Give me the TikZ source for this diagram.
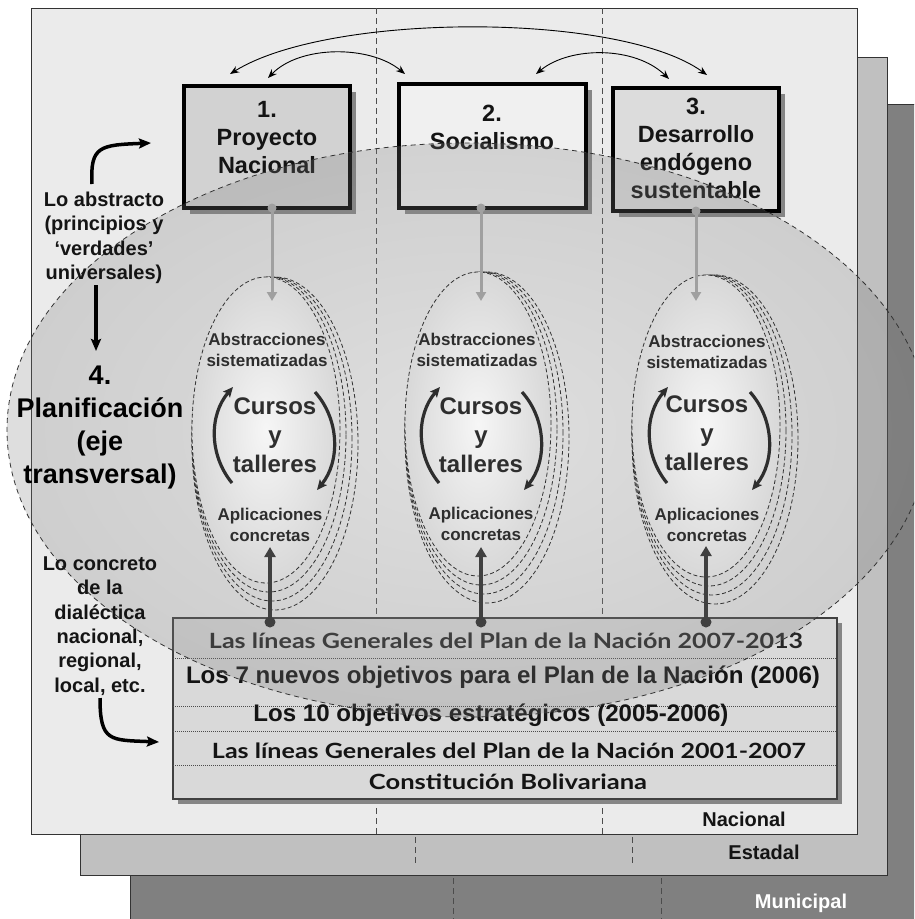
\documentclass[tikz,border=0pt]{standalone}
\usepackage{fontspec}
\setmainfont{Liberation Sans}
\newfontfamily\gill{Lato}
\usetikzlibrary{arrows.meta,shapes.geometric}
\definecolor{munc}{HTML}{808080}
\definecolor{estc}{HTML}{C0C0C0}
\definecolor{nacc}{HTML}{EBEBEB}
\definecolor{boxa}{HTML}{D2D2D2}
\definecolor{boxb}{HTML}{F0F0F0}
\definecolor{boxc}{HTML}{DCDCDC}
\definecolor{tabc}{HTML}{D9D9D9}
\definecolor{shadowc}{HTML}{858585}
\definecolor{txtd}{HTML}{141414}
\definecolor{txtm}{HTML}{2E2E2E}
\definecolor{arrg}{HTML}{A0A0A0}
\definecolor{arrd}{HTML}{404040}
\definecolor{bigin}{HTML}{BDBDBD}
\definecolor{bigout}{HTML}{7A7A7A}
\definecolor{smin}{HTML}{F6F6F6}
\definecolor{smout}{HTML}{D8D8D8}
\pgfdeclareradialshading{bigrad}{\pgfpoint{0bp}{0bp}}{color(0bp)=(bigin); color(25bp)=(bigout); color(50bp)=(bigout)}
\newcommand{\fitw}[2]{\resizebox{#1}{\height}{#2}}
\begin{document}
\begin{tikzpicture}[x=1pt,y=-1pt,
  panel/.style={draw=black!80,line width=1pt},
  vdash/.style={draw=black!70,line width=0.9pt,dash pattern=on 6pt off 4pt},
  lbl/.style={font=\bfseries\fontsize{20}{24}\selectfont,inner sep=0pt},
  mbox/.style={draw=black,line width=3.5pt,inner sep=0pt},
  btxt/.style={font=\bfseries\fontsize{23.5}{28}\selectfont,align=center,text=txtd,inner sep=0pt},
  toparc/.style={draw=black,line width=0.9pt,{Stealth[length=9pt,width=7pt]}-{Stealth[length=9pt,width=7pt]}},
  rowsep/.style={draw=black!70,line width=0.8pt,dash pattern=on 1pt off 1pt},
  rowgill/.style={font=\gill\bfseries\fontsize{21}{24}\selectfont,inner sep=0pt},
  rowarial/.style={font=\bfseries\fontsize{24}{26}\selectfont,inner sep=0pt},
  smell/.style={ellipse,inner sep=0pt,draw=black!80,line width=0.8pt,dash pattern=on 4pt off 2.5pt,inner color=smin,outer color=smout},
  smcopy/.style={draw=black!80,line width=0.8pt,dash pattern=on 4pt off 2.5pt},
  abstxt/.style={font=\bfseries\fontsize{17}{20.5}\selectfont,align=center,text=txtm,inner sep=0pt},
  curtxt/.style={font=\bfseries\fontsize{24}{29}\selectfont,align=center,text=txtm,inner sep=0pt},
  cycarr/.style={draw=txtm,line width=3.2pt,-{Stealth[length=10pt,width=9pt,inset=2pt]}},
  grayarr/.style={draw=arrg,line width=3pt,-{Triangle[length=9pt,width=10pt]}},
  darkarr/.style={draw=arrd,line width=4pt,-{Triangle[length=10pt,width=11pt]}},
  blkarr/.style={draw=black,line width=3.5pt,-{Stealth[length=12pt,width=10pt,inset=2pt]}},
  sidetxt/.style={font=\bfseries\fontsize{20}{24.4}\selectfont,align=center,text=txtd,inner sep=0pt},
  plantxt/.style={font=\bfseries\fontsize{27}{33}\selectfont,align=center,text=black,inner sep=0pt}
]
\useasboundingbox (0,0) rectangle (914,919);
\clip (0,0) rectangle (914,919);
% ---------- panels
\draw[panel,fill=munc] (130,104) rectangle (930,935);
\draw[panel,fill=estc] (80,57) rectangle (887,875);
\draw[panel,fill=nacc] (31,8) rectangle (857,834);
\draw[vdash] (376,8) -- (376,834);
\draw[vdash] (602,8) -- (602,834);
\draw[vdash] (415,837) -- (415,866);
\draw[vdash] (632,837) -- (632,866);
\draw[vdash] (453,878) -- (453,919);
\draw[vdash] (661,878) -- (661,919);
\node[lbl,text=txtd] (lnac) at (744,819) {Nacional};
\node[lbl,text=txtd] (lest) at (764,852) {Estadal};
\node[lbl,text=white] (lmun) at (801,903) {Municipal};
% ---------- boxes
\fill[shadowc] (190,92) rectangle (356,214);
\fill[shadowc] (405,90) rectangle (592,214);
\fill[shadowc] (619,94) rectangle (785,217);
\node[mbox,fill=boxa,minimum width=166pt,minimum height=122pt] (b1) at (267,147) {};
\node[mbox,fill=boxb,minimum width=187pt,minimum height=124pt] (b2) at (492.5,146) {};
\node[mbox,fill=boxc,minimum width=166pt,minimum height=123pt] (b3) at (696,149.5) {};
\node[btxt] (b1t) at (267,138) {1.\\Proyecto\\Nacional};
\node[btxt] (b2t) at (492,127) {2.\\Socialismo};
\node[btxt] (b3t) at (696,148) {3.\\Desarrollo\\endógeno\\sustentable};
% ---------- top arcs
\coordinate (ta1) at (230,74);
\coordinate (ta2) at (707,75);
\coordinate (tb1) at (268,78);
\coordinate (tb2) at (405,74);
\coordinate (tc1) at (536,74);
\coordinate (tc2) at (669,79);
\draw[toparc] (ta1) .. controls (330,12) and (620,12) .. (ta2);
\draw[toparc] (tb1) .. controls (300,45) and (370,45) .. (tb2);
\draw[toparc] (tc1) .. controls (570,46) and (635,46) .. (tc2);
% ---------- table
\fill[shadowc] (178,623) rectangle (842,804);
\node[draw=black!75,line width=1.6pt,fill=tabc,minimum width=664pt,minimum height=181pt,inner sep=0pt] (tab) at (505,708.5) {};
\draw[rowsep] (173,658) -- (837,658);
\draw[rowsep] (173,706) -- (837,706);
\draw[rowsep] (173,731) -- (837,731);
\draw[rowsep] (173,765) -- (837,765);
\node[rowgill,text=black!85] (r1) at (506,641) {\fitw{594pt}{Las líneas Generales del Plan de la Nación 2007-2013}};
\node[rowarial,text=txtd] (r2) at (503,677) {\fitw{634pt}{Los 7 nuevos objetivos para el Plan de la Nación (2006)}};
\node[rowarial,text=txtd] (r3) at (491,715) {\fitw{475pt}{Los 10 objetivos estratégicos (2005-2006)}};
\node[rowgill,text=txtd] (r4) at (509,751) {\fitw{594pt}{Las líneas Generales del Plan de la Nación 2001-2007}};
\node[rowgill,text=txtd] (r5) at (508,782) {\fitw{278pt}{Constitución Bolivariana}};
% ---------- big ellipse overlay
\shade[shading=bigrad,fill opacity=0.25] (468,430) ellipse [x radius=461pt,y radius=287pt];
\draw[draw=black!80,line width=0.8pt,dash pattern=on 5pt off 4pt] (468,430) ellipse [x radius=461pt,y radius=287pt];
% ---------- small ellipses
\foreach \k in {3,2,1}{
  \draw[smcopy] (266+3*\k,430+4.5*\k) ellipse [x radius=74pt+3pt*\k,y radius=153pt+4.5pt*\k];
  \draw[smcopy] (478+3*\k,424+4.5*\k) ellipse [x radius=73pt+3pt*\k,y radius=152pt+4.5pt*\k];
  \draw[smcopy] (706+3*\k,426+4.5*\k) ellipse [x radius=74pt+3pt*\k,y radius=151pt+4.5pt*\k];
}
\node[smell,minimum width=148pt,minimum height=306pt] (e1) at (266,430) {};
\node[smell,minimum width=146pt,minimum height=304pt] (e2) at (478,424) {};
\node[smell,minimum width=148pt,minimum height=302pt] (e3) at (706,426) {};
\node[abstxt] (e1a) at (267,350) {Abstracciones\\sistematizadas};
\node[abstxt] (e2a) at (477,350) {Abstracciones\\sistematizadas};
\node[abstxt] (e3a) at (707,352) {Abstracciones\\sistematizadas};
\node[curtxt] (e1c) at (275,435) {Cursos\\y\\talleres};
\node[curtxt] (e2c) at (481,435) {Cursos\\y\\talleres};
\node[curtxt] (e3c) at (707,433) {Cursos\\y\\talleres};
\node[abstxt] (e1p) at (270,525) {Aplicaciones\\concretas};
\node[abstxt] (e2p) at (481,524) {Aplicaciones\\concretas};
\node[abstxt] (e3p) at (707,525) {Aplicaciones\\concretas};
\foreach \c in {275,482,710}{
  \draw[cycarr] (\c-43,483) .. controls (\c-66,455) and (\c-66,415) .. (\c-42,387);
  \draw[cycarr] (\c+40,392) .. controls (\c+65,420) and (\c+65,462) .. (\c+42,490);
}
% ---------- vertical arrows
\coordinate (g1s) at (272,208); \coordinate (g1e) at (272,301);
\coordinate (g2s) at (481,208); \coordinate (g2e) at (481,301);
\coordinate (g3s) at (696,211); \coordinate (g3e) at (696,301);
\draw[grayarr] (g1s) -- (g1e);
\draw[grayarr] (g2s) -- (g2e);
\draw[grayarr] (g3s) -- (g3e);
\fill[arrg] (g1s) circle (4.5pt);
\fill[arrg] (g2s) circle (4.5pt);
\fill[arrg] (g3s) circle (4.5pt);
\coordinate (d1s) at (270,622); \coordinate (d1e) at (270,547);
\coordinate (d2s) at (481,622); \coordinate (d2e) at (481,547);
\coordinate (d3s) at (706,622); \coordinate (d3e) at (706,546);
\draw[darkarr] (d1s) -- (d1e);
\draw[darkarr] (d2s) -- (d2e);
\draw[darkarr] (d3s) -- (d3e);
\fill[arrd] (d1s) circle (5.5pt);
\fill[arrd] (d2s) circle (5.5pt);
\fill[arrd] (d3s) circle (5.5pt);
% ---------- left side
\node[sidetxt] (labs) at (104,238) {Lo abstracto\\(principios y\\‘verdades’\\universales)};
\node[plantxt] (lplan) at (100,428) {4.\\Planificación\\(eje\\transversal)};
\node[sidetxt] (lconc) at (100,626) {Lo concreto\\de la\\dialéctica\\nacional,\\regional,\\local, etc.};
\coordinate (la1) at (92,184); \coordinate (la2) at (151,143);
\draw[blkarr] (la1) .. controls (90,146) and (100,145) .. (la2);
\coordinate (lb1) at (96,285); \coordinate (lb2) at (96,351);
\draw[blkarr] (lb1) -- (lb2);
\coordinate (lc1) at (100,698); \coordinate (lc2) at (159,742);
\draw[blkarr] (lc1) .. controls (100,742) and (110,740) .. (lc2);
\end{tikzpicture}
\end{document}
